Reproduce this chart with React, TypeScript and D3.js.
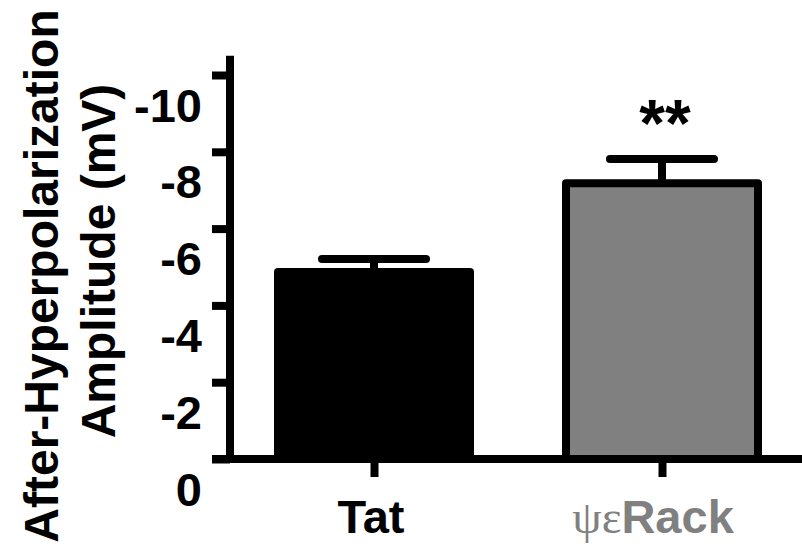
import React, { useEffect, useRef } from "react";
import * as d3 from "d3";

// group names, mean amplitude (shown as negative mV) and SEM
const groups = ["Tat", "ψεRack"];
const means = [4.87, 7.18];
const sems = [0.34, 0.63];
const barColors = ["#000000", "#808080"];
const labelColors = ["#000000", "#808080"];
const yTicks = [0, 2, 4, 6, 8, 10];

const width = 802;
const height = 544;
const font = "'Liberation Sans', Arial, Helvetica, sans-serif";

export default function App() {
  const svgRef = useRef<SVGSVGElement | null>(null);

  useEffect(() => {
    const svg = d3.select(svgRef.current);
    svg.selectAll("*").remove();

    const y = d3.scaleLinear().domain([0, 10.5]).range([459, 55.8]);
    const x = d3.scalePoint<string>().domain(groups).range([230, 806]).padding(0.5);
    const barW = 192;
    const capHalf = 52;

    // bars
    svg
      .append("g")
      .selectAll("rect")
      .data(groups)
      .join("rect")
      .attr("x", (d) => (x(d) as number) - barW / 2)
      .attr("y", (d, i) => y(means[i]))
      .attr("width", barW)
      .attr("height", (d, i) => y(0) - y(means[i]))
      .attr("fill", (d, i) => barColors[i])
      .attr("stroke", "#000")
      .attr("stroke-width", 8)
      .attr("stroke-linejoin", "round");

    // error bars (upper only)
    const err = svg.append("g").attr("stroke", "#000").attr("stroke-width", 8).attr("stroke-linecap", "round");
    groups.forEach((g, i) => {
      const cx = x(g) as number;
      err
        .append("line")
        .attr("x1", cx)
        .attr("x2", cx)
        .attr("y1", y(means[i]))
        .attr("y2", y(means[i] + sems[i]))
        .attr("stroke-linecap", "butt");
      err
        .append("line")
        .attr("x1", cx - capHalf)
        .attr("x2", cx + capHalf)
        .attr("y1", y(means[i] + sems[i]))
        .attr("y2", y(means[i] + sems[i]));
    });

    // y axis
    const yAxis = d3
      .axisLeft(y)
      .tickValues(yTicks)
      .tickSize(18)
      .tickSizeOuter(0)
      .tickPadding(10)
      .tickFormat((d) => (d === 0 ? "0" : `-${d}`));
    const yg = svg.append("g").attr("transform", "translate(230,0)").call(yAxis);
    yg.select(".domain").attr("stroke-width", 8).attr("d", `M0,${y(10.5)}V${y(0) + 4}`);
    yg.selectAll(".tick line").attr("stroke-width", 8);
    yg.selectAll(".tick text")
      .attr("dy", "0")
      .attr("y", 46)
      .attr("fill", "#000")
      .style("font-family", font)
      .style("font-weight", "bold")
      .style("font-size", "47px");

    // x axis
    const xAxis = d3.axisBottom(x).tickSize(18).tickSizeOuter(0).tickFormat(() => "");
    const xg = svg.append("g").attr("transform", `translate(0,${y(0)})`).call(xAxis);
    xg.select(".domain").attr("stroke-width", 8).attr("d", "M212,0H802");
    xg.selectAll(".tick line").attr("stroke-width", 8);

    // category labels
    const lab = svg
      .append("g")
      .style("font-family", font)
      .style("font-size", "47px")
      .attr("text-anchor", "middle");
    lab
      .append("text")
      .attr("x", (x(groups[0]) as number) - 3)
      .attr("y", 533)
      .attr("fill", labelColors[0])
      .style("font-weight", "bold")
      .text(groups[0]);
    const t2 = lab
      .append("text")
      .attr("x", (x(groups[1]) as number) - 9)
      .attr("y", 533)
      .attr("fill", labelColors[1]);
    t2.append("tspan")
      .style("font-family", "'Liberation Serif', 'Times New Roman', serif")
      .style("font-weight", "normal")
      .text(groups[1].slice(0, 2));
    t2.append("tspan").style("font-weight", "bold").text(groups[1].slice(2));

    // significance
    svg
      .append("text")
      .attr("x", (x(groups[1]) as number) + 3)
      .attr("y", 146)
      .attr("text-anchor", "middle")
      .style("font-family", font)
      .style("font-weight", "bold")
      .style("font-size", "66px")
      .text("**");

    // y title
    const title = svg
      .append("g")
      .style("font-family", font)
      .style("font-weight", "bold")
      .style("font-size", "48px")
      .attr("text-anchor", "middle");
    title
      .append("text")
      .attr("transform", "translate(58,276) rotate(-90)")
      .text("After-Hyperpolarization");
    title
      .append("text")
      .attr("transform", "translate(115,261) rotate(-90)")
      .text("Amplitude (mV)");
  }, []);

  return (
    <svg
      ref={svgRef}
      width={width}
      height={height}
      style={{ position: "absolute", left: 0, top: 0, background: "#fff" }}
    ></svg>
  );
}
